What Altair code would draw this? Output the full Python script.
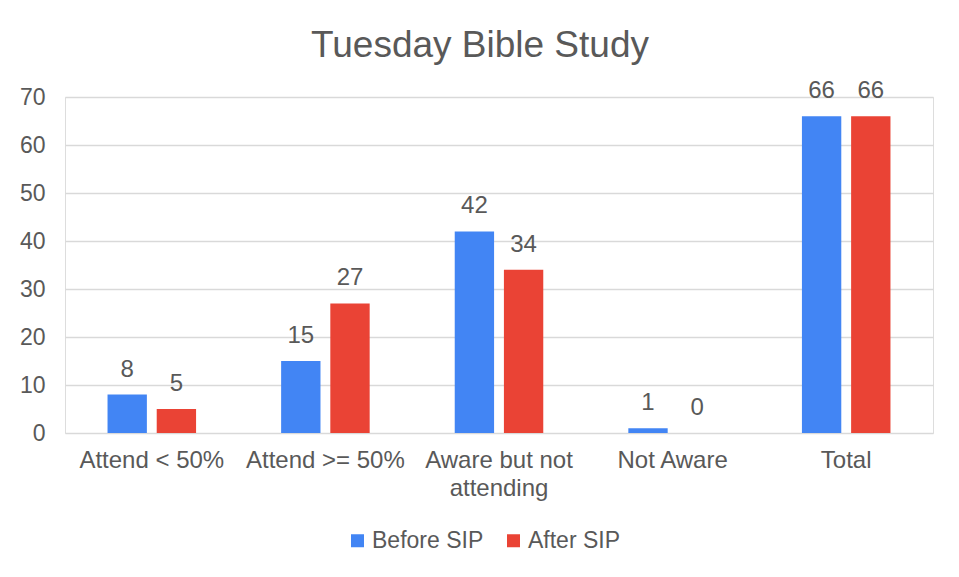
import altair as alt
import pandas as pd

categories = ["Attend < 50%", "Attend >= 50%", "Aware but not attending", "Not Aware", "Total"]
series = ["Before SIP", "After SIP"]
before_sip = [8, 15, 42, 1, 66]
after_sip = [5, 27, 34, 0, 66]
colors = ["#4285F4", "#EA4335"]
y_ticks = [0, 10, 20, 30, 40, 50, 60, 70]

rows = []
for c, b, a in zip(categories, before_sip, after_sip):
    rows.append({"category": c, "series": series[0], "value": b})
    rows.append({"category": c, "series": series[1], "value": a})
df = pd.DataFrame(rows)

FONT = "Liberation Sans"
GRAY = "#595959"

x_enc = alt.X(
    "category:N",
    sort=categories,
    scale=alt.Scale(paddingInner=0.49, paddingOuter=0.245),
    axis=alt.Axis(
        title=None,
        labelAngle=0,
        ticks=False,
        domain=False,
        labelFontSize=24,
        labelColor=GRAY,
        labelFont=FONT,
        labelPadding=15,
        labelLineHeight=28,
        labelLimit=300,
        labelExpr="datum.label == 'Aware but not attending' ? ['Aware but not', 'attending'] : datum.label",
    ),
)
xo_enc = alt.XOffset("series:N", sort=series, scale=alt.Scale(paddingInner=0.2, paddingOuter=0))
y_enc = alt.Y(
    "value:Q",
    scale=alt.Scale(domain=[0, 70], nice=False),
    axis=alt.Axis(
        title=None,
        values=y_ticks,
        ticks=False,
        domain=False,
        labelFontSize=23,
        labelColor=GRAY,
        labelFont=FONT,
        labelPadding=20,
        gridColor="#d9d9d9",
        gridWidth=1.5,
    ),
)

base = alt.Chart(df).encode(x=x_enc, xOffset=xo_enc)

bars = base.mark_bar().encode(
    y=y_enc,
    color=alt.Color(
        "series:N",
        sort=series,
        scale=alt.Scale(domain=series, range=colors),
        legend=alt.Legend(
            title=None,
            orient="none",
            direction="horizontal",
            legendX=281,
            legendY=432,
            symbolType="square",
            symbolSize=169,
            symbolStrokeWidth=0,
            labelFontSize=23,
            labelFont=FONT,
            labelColor=GRAY,
            labelOffset=3,
            columnPadding=18,
            padding=0,
        ),
    ),
)

labels = base.mark_text(
    baseline="alphabetic", dy=-18, fontSize=24, font=FONT, color=GRAY
).encode(y=alt.Y("value:Q"), text=alt.Text("value:Q"))

chart = (
    alt.layer(bars, labels)
    .properties(
        width=868,
        height=336,
        autosize=alt.AutoSizeParams(type="none"),
        padding={"left": 57, "top": 89, "right": 18, "bottom": 136},
        title=alt.Title(
            "Tuesday Bible Study",
            fontSize=37,
            font=FONT,
            fontWeight="normal",
            color=GRAY,
            anchor="middle",
            dx=-19,
            offset=14,
        ),
    )
    .configure_view(stroke=None)
    .configure(background="white")
)

chart.save("out.html", embed_options={"renderer": "svg", "actions": False})
